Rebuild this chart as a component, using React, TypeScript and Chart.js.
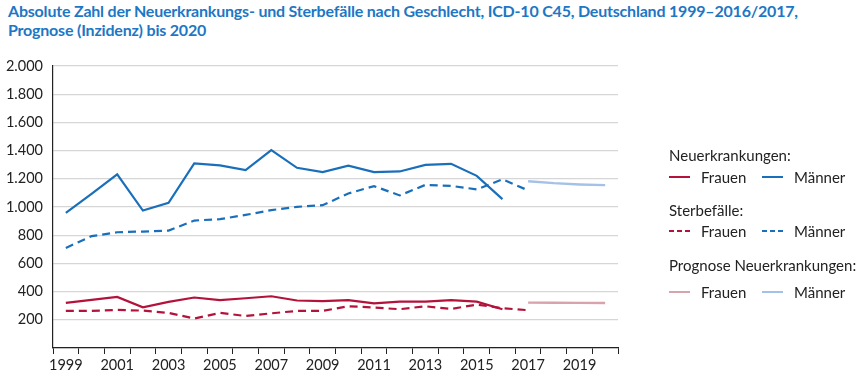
import React, { useEffect, useRef } from "react";
import { Chart, registerables } from "chart.js";

Chart.register(...registerables);

const years = [
  "1999", "2000", "2001", "2002", "2003", "2004", "2005", "2006", "2007", "2008", "2009",
  "2010", "2011", "2012", "2013", "2014", "2015", "2016", "2017", "2018", "2019", "2020",
];

const incidenceFrauen = [320, 341, 362, 289, 327, 358, 339, 353, 367, 337, 332, 339, 317, 329, 329, 339, 329, 275, null, null, null, null];
const incidenceMaenner = [958, 1093, 1231, 975, 1030, 1309, 1295, 1262, 1404, 1278, 1247, 1293, 1247, 1252, 1299, 1306, 1221, 1056, null, null, null, null];
const mortalityFrauen = [263, 263, 270, 265, 249, 209, 249, 227, 246, 263, 263, 296, 287, 275, 296, 277, 308, 282, 268, null, null, null];
const mortalityMaenner = [710, 793, 821, 826, 833, 904, 914, 944, 978, 1001, 1013, 1096, 1148, 1082, 1157, 1150, 1125, 1196, 1118, null, null, null];
const forecastFrauen = [null, null, null, null, null, null, null, null, null, null, null, null, null, null, null, null, null, null, 322, 321, 320, 319];
const forecastMaenner = [null, null, null, null, null, null, null, null, null, null, null, null, null, null, null, null, null, null, 1183, 1169, 1160, 1155];

const yTicks = [0, 200, 400, 600, 800, 1000, 1200, 1400, 1600, 1800, 2000];

const RED = "#b3133b";
const BLUE = "#1a6fbb";
const LRED = "#d8a3ad";
const LBLUE = "#a4c1e8";
const FONT = "Lato, 'Open Sans', sans-serif";

function LegendLine({ color, dashed }: { color: string; dashed?: boolean }) {
  return (
    <div
      style={{
        width: 21,
        height: 2.5,
        background: dashed
          ? `repeating-linear-gradient(90deg, ${color} 0 5px, transparent 5px 8px)`
          : color,
        marginRight: 11,
      }}
    />
  );
}

function LegendRow({ top, c1, c2, dashed }: { top: number; c1: string; c2: string; dashed?: boolean }) {
  return (
    <div style={{ position: "absolute", left: 669, top, display: "flex", alignItems: "center", height: 18 }}>
      <LegendLine color={c1} dashed={dashed} />
      <span style={{ width: 61 }}>Frauen</span>
      <LegendLine color={c2} dashed={dashed} />
      <span>Männer</span>
    </div>
  );
}

export default function App() {
  const ref = useRef<HTMLCanvasElement>(null);

  useEffect(() => {
    const ctx = ref.current!;
    const mk = (data: (number | null)[], color: string, dashed = false, width = 2.2) => ({
      data,
      borderColor: color,
      backgroundColor: color,
      borderWidth: width,
      borderDash: dashed ? [8, 5] : [],
      pointRadius: 0,
      tension: 0,
      spanGaps: false,
      fill: false,
    });
    const chart = new Chart(ctx, {
      type: "line",
      data: {
        labels: years,
        datasets: [
          mk(forecastFrauen, LRED, false, 2.4),
          mk(forecastMaenner, LBLUE, false, 2.4),
          mk(mortalityFrauen, RED, true),
          mk(incidenceFrauen, RED),
          mk(mortalityMaenner, BLUE, true),
          mk(incidenceMaenner, BLUE),
        ],
      },
      options: {
        animation: false,
        responsive: false,
        layout: { padding: { left: 0, right: 242, top: 66, bottom: 0 } },
        plugins: { legend: { display: false }, title: { display: false }, tooltip: { enabled: false } },
        scales: {
          x: {
            type: "category",
            offset: true,
            afterFit: (s: any) => { s.height = 34; },
            grid: {
              offset: true,
              drawOnChartArea: false,
              drawTicks: true,
              tickLength: 6,
              tickColor: "#222",
              tickWidth: 1,
            },
            border: { display: true, color: "#222", width: 1.2 },
            ticks: {
              autoSkip: false,
              maxRotation: 0,
              padding: 3,
              color: "#222",
              font: { family: FONT, size: 14.5 },
              callback: (_v: any, i: number) => (parseInt(years[i]) % 2 === 1 ? years[i] : ""),
            },
          },
          y: {
            min: 0,
            max: 2000,
            afterFit: (s: any) => { s.width = 53; },
            afterBuildTicks: (s: any) => { s.ticks = yTicks.map((v) => ({ value: v })); },
            grid: { color: "#d6d6d6", lineWidth: 1.3, drawTicks: false },
            border: { display: true, color: "#222", width: 1.2 },
            ticks: {
              padding: 10,
              color: "#222",
              font: { family: FONT, size: 14.5 },
              callback: (v: any) => (v === 0 ? "" : Number(v).toLocaleString("de-DE")),
            },
          },
        },
      },
    } as any);
    return () => chart.destroy();
  }, []);

  return (
    <div style={{ position: "fixed", left: 0, top: 0, width: 860, height: 382, background: "#fff", fontFamily: FONT, color: "#222" }}>
      <div
        style={{
          position: "absolute",
          left: 8,
          top: 1,
          fontWeight: 700,
          fontSize: 16,
          lineHeight: "19px",
          letterSpacing: "-0.2px",
          color: "#1d77c4",
          whiteSpace: "nowrap",
        }}
      >
        Absolute Zahl der Neuerkrankungs- und Sterbefälle nach Geschlecht, ICD-10 C45, Deutschland 1999–2016/2017,
        <br />
        Prognose (Inzidenz) bis 2020
      </div>
      <canvas ref={ref} width={860} height={382} style={{ position: "absolute", left: 0, top: 0 }} />
      <div style={{ position: "absolute", left: 0, top: 0, fontSize: 15, lineHeight: "18px" }}>
        <div style={{ position: "absolute", left: 669, top: 146, whiteSpace: "nowrap" }}>Neuerkrankungen:</div>
        <LegendRow top={168} c1={RED} c2={BLUE} />
        <div style={{ position: "absolute", left: 669, top: 201, whiteSpace: "nowrap" }}>Sterbefälle:</div>
        <LegendRow top={222} c1={RED} c2={BLUE} dashed />
        <div style={{ position: "absolute", left: 669, top: 256, whiteSpace: "nowrap" }}>Prognose Neuerkrankungen:</div>
        <LegendRow top={283} c1={LRED} c2={LBLUE} />
      </div>
    </div>
  );
}
